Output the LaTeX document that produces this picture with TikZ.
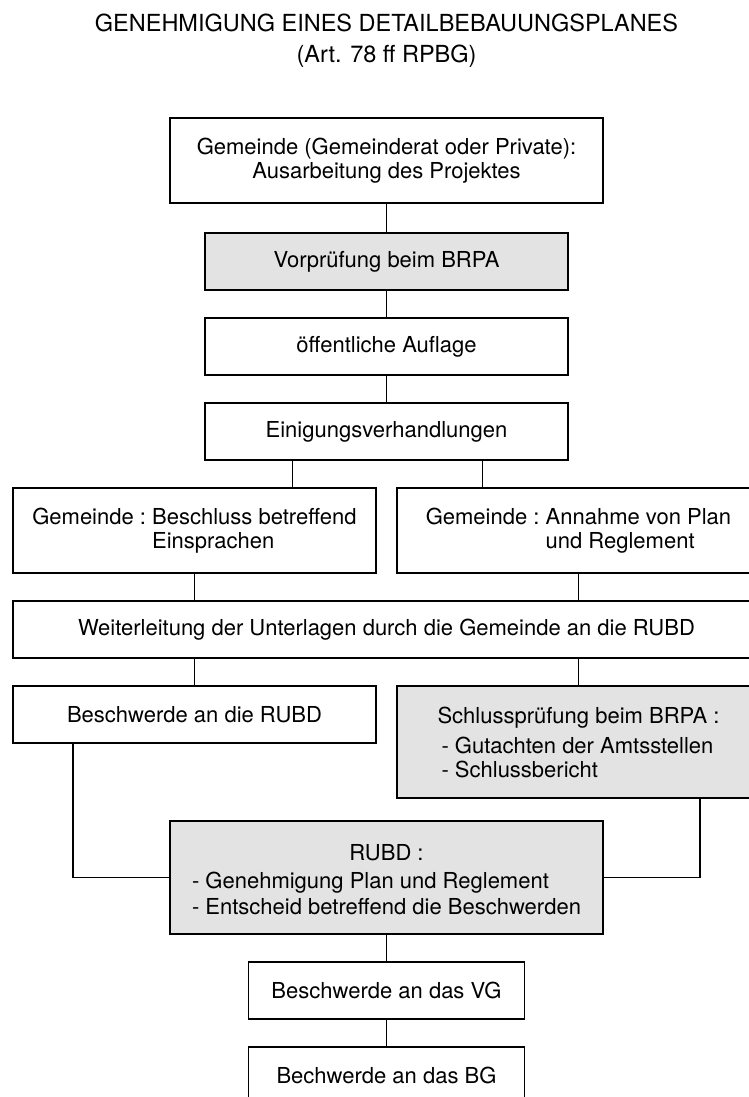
\documentclass[tikz,border=0pt]{standalone}
\usepackage{fontspec}
\setmainfont{TeX Gyre Heros}
\usetikzlibrary{positioning}
\tikzset{
	box/.style = {draw=black, line width=0.9pt, fill=white, minimum height=28.5pt, inner sep=2pt, outer sep=0pt, align=center, font=\fontsize{11}{12}\selectfont\frenchspacing},
	greybox/.style = {box, fill=black!11},
	wide/.style = {minimum width=216.5pt},
	mid/.style = {minimum width=181.5pt},
	small/.style = {minimum width=138pt},
	titletext/.style = {anchor=base, inner sep=0, font=\fontsize{11.75}{14}\selectfont},
	link/.style = {draw=black, line width=0.7pt}
}

\begin{document}
\begin{tikzpicture}[x=0.5pt, y=-0.5pt, node distance=14pt]
	\useasboundingbox (0,0) rectangle (749,1097);
	\clip (0,0) rectangle (749,1097);

	% title
	\node [titletext] (title) at (386.5,32) {GENEHMIGUNG EINES DETAILBEBAUUNGSPLANES};
	\node [titletext] (subtitle) at (386.5,63) {(Art. 78 ff RPBG)};

	% main column
	\node [box, wide, minimum height=42.5pt] (projekt) at (386.5,160.5) {Gemeinde (Gemeinderat oder Private):\\Ausarbeitung des Projektes};
	\node [greybox, mid, below=15pt of projekt] (vorpruefung) {Vorprüfung beim BRPA};
	\node [box, mid, below=of vorpruefung] (auflage) {öffentliche Auflage};
	\node [box, mid, below=of auflage] (einigung) {Einigungsverhandlungen};

	\node [box, mid, minimum height=42.5pt, align=left, below=of einigung, xshift=-96pt] (beschluss) {Gemeinde : Beschluss betreffend\\\hphantom{Gemeinde : }Einsprachen};
	\node [box, mid, minimum height=42.5pt, align=left, right=10.5pt of beschluss] (annahme) {Gemeinde : Annahme von Plan\\\hphantom{Gemeinde : }und Reglement};

	\node [box, minimum width=373.5pt, below=of beschluss, xshift=96pt] (weiter) {Weiterleitung der Unterlagen durch die Gemeinde an die RUBD};

	\node [box, mid, below=of weiter, xshift=-96pt] (beschwerde) {Beschwerde an die RUBD};
	\node [greybox, mid, minimum height=56pt, align=left, below=of weiter, xshift=96pt] (schluss) {Schlussprüfung beim BRPA :\\[3pt]\hspace{2pt}- Gutachten der Amtsstellen\\\hspace{2pt}- Schlussbericht};

	\node [greybox, wide, minimum height=56.5pt, below=11.5pt of schluss, xshift=-96pt] (rubd) {\rule{0pt}{14pt}RUBD :\\[4pt]\def\arraystretch{1.08}\begin{tabular}{@{}l@{}}- Genehmigung Plan und Reglement\\- Entscheid betreffend die Beschwerden\end{tabular}};

	\node [box, small, below=of rubd] (vg) {Beschwerde an das VG};
	\node [box, small, below=of vg] (bg) {Bechwerde an das BG};

	% connectors
	\draw [link] (projekt.south) -- (vorpruefung.north);
	\draw [link] (vorpruefung.south) -- (auflage.north);
	\draw [link] (auflage.south) -- (einigung.north);
	\draw [link] ([xshift=-47pt]einigung.south) -- ([xshift=-47pt]einigung.south |- beschluss.north);
	\draw [link] ([xshift=48pt]einigung.south) -- ([xshift=48pt]einigung.south |- annahme.north);
	\draw [link] (beschluss.south) -- (beschluss.south |- weiter.north);
	\draw [link] (annahme.south) -- (annahme.south |- weiter.north);
	\draw [link] (weiter.south -| beschwerde.north) -- (beschwerde.north);
	\draw [link] (weiter.south -| schluss.north) -- (schluss.north);
	\draw [link] ([xshift=30pt]beschwerde.south west) |- (rubd.west);
	\draw [link] ([xshift=-30pt]schluss.south east) |- (rubd.east);
	\draw [link] (rubd.south) -- (vg.north);
	\draw [link] (vg.south) -- (bg.north);
\end{tikzpicture}
\end{document}
